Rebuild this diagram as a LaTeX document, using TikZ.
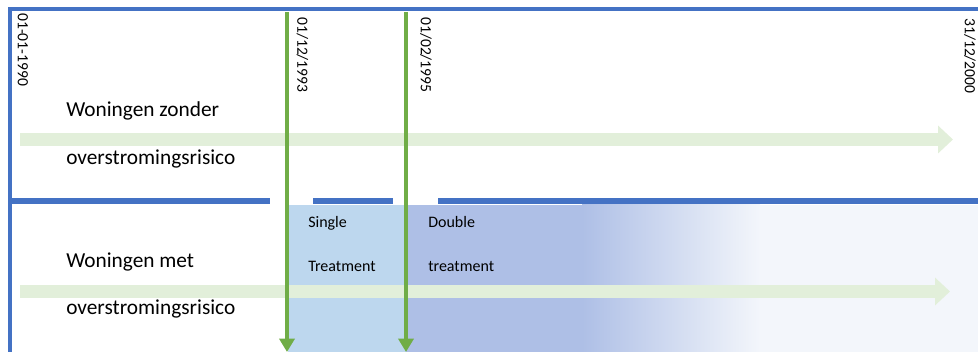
\documentclass[tikz,border=0pt]{standalone}
\usepackage{fontspec}
\setmainfont{Carlito}
\usetikzlibrary{arrows.meta}

\definecolor{frameblue}{HTML}{4472C4}
\definecolor{arrowgreen}{HTML}{70AD47}
\definecolor{bandgreen}{HTML}{E2EFDA}
\definecolor{singleblue}{HTML}{BDD7EE}
\definecolor{doubleblue}{HTML}{AEBFE6}
\definecolor{paleblue}{HTML}{F3F6FB}

\begin{document}
\begin{tikzpicture}[x=0.75pt, y=-0.75pt,
    frame/.style={draw=frameblue, line width=3pt},
    band/.style={bandgreen, line width=9.75pt, -{Triangle[width=20.25pt,length=11.25pt]}},
    cutoff/.style={arrowgreen, line width=3pt, -{Triangle[width=11.25pt,length=10pt]}},
    rowlabel/.style={anchor=base west, inner sep=0pt, font=\fontsize{16}{19}\selectfont},
    phase/.style={anchor=base west, inner sep=0pt, font=\fontsize{12}{14}\selectfont},
    datelabel/.style={rotate=-90, anchor=west, inner sep=0pt, font=\fontsize{11.7}{14}\selectfont}]

      \useasboundingbox (0,0) rectangle (978,352);

      % lower row, treated period
      \fill[singleblue] (288,205) rectangle (406,352);
      \fill[doubleblue] (406,205) rectangle (582,352);
      \shade[left color=doubleblue, right color=paleblue] (582,205) rectangle (760,352);
      \fill[paleblue] (760,205) rectangle (990,352);

      \draw[frame] (10,9.5) rectangle (990,200);
      \draw[frame] (10,202) rectangle (990,354);

      \fill[white] (270,12) rectangle (313,205);
      \fill[white] (393,12) rectangle (438,205);


      \coordinate (topstart) at (20,139.5);
      \coordinate (topend) at (953,139.5);
      \draw[band] (topstart) -- (topend);

      \coordinate (lowstart) at (20,291.5);
      \coordinate (lowend) at (950,291.5);
      \draw[band] (lowstart) -- (lowend);


      \coordinate (singletop) at (287,12);
      \coordinate (singleend) at (287,352);
      \draw[cutoff] (singletop) -- (singleend);

      \coordinate (doubletop) at (406,12);
      \coordinate (doubleend) at (406,352);
      \draw[cutoff] (doubletop) -- (doubleend);


      \node[datelabel] (dstart) at (23,13) {01-01-1990};
      \node[datelabel] (dsingle) at (302.5,17) {01/12/1993};
      \node[datelabel] (ddouble) at (426,17) {01/02/1995};
      \node[datelabel] (dend) at (970,18) {31/12/2000};

      \node[rowlabel] (zonder) at (66,117) {Woningen zonder};
      \node[rowlabel] (zonderrisk) at (66,165) {overstromingsrisico};

      \node[rowlabel] (met) at (66,268) {Woningen met};
      \node[rowlabel] (metrisk) at (66,315) {overstromingsrisico};

      \node[phase] (single) at (308,228) {Single};
      \node[phase] (singletr) at (308,272) {Treatment};

      \node[phase] (double) at (428,228) {Double};
      \node[phase] (doubletr) at (428,272) {treatment};

\end{tikzpicture}
\end{document}
